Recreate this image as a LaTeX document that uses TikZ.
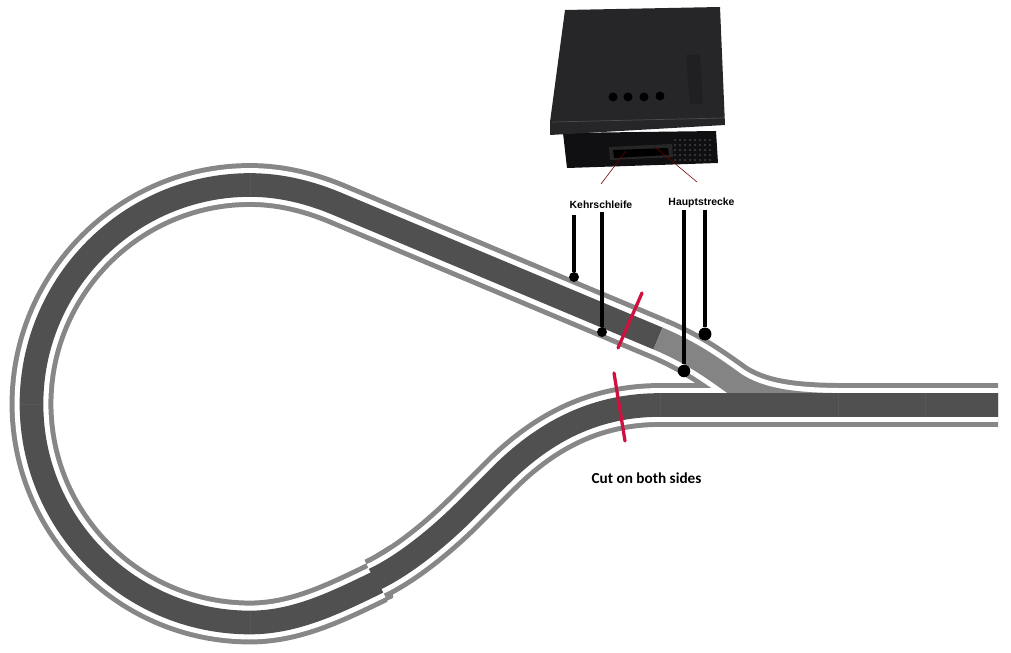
\documentclass[tikz,border=0pt]{standalone}
\usepackage{fontspec}
\setmainfont{Liberation Sans}
\newfontfamily\cutfont{Carlito}
\definecolor{railgray}{RGB}{135,135,135}
\definecolor{trackdark}{RGB}{80,80,80}
\definecolor{trackseam}{RGB}{88,88,88}
\definecolor{tracklight}{RGB}{132,132,132}
\definecolor{cutred}{RGB}{208,16,62}
\definecolor{boxblack}{RGB}{38,38,40}
\definecolor{boxbar}{RGB}{32,32,34}
\definecolor{boxside}{RGB}{16,16,18}
\tikzset{
  rail/.style={line width=37.4pt,color=railgray},
  gap/.style={line width=28.9pt,color=white},
  band/.style={line width=20.2pt,color=trackdark},
  wire/.style={line width=2.8pt,color=black},
  wiredot/.style={circle,fill=black,inner sep=0pt,minimum size=#1},
  cut/.style={line width=2.8pt,color=cutred,line cap=round},
  lead/.style={line width=0.5pt,color=red!45!black},
  tag/.style={inner sep=0pt,font=\bfseries\fontsize{8.9}{10}\selectfont,color=black}
}
\def\looppath{(658,338.5) -- (340,205) .. controls (312,193) and (282,185) .. (250,185) .. controls (129.6,185) and (31.5,283.6) .. (31.5,404) .. controls (31.5,524.4) and (129.6,622.5) .. (250,622.5) .. controls (295,622.5) and (335,603) .. (378,582)}
\def\mainpath{(374,579.5) .. controls (405,565) and (440,536) .. (466,510) -- (500,476) .. controls (540,436) and (590,405) .. (660,405) -- (998,405)}
\def\branchpath{(658,338.5) .. controls (690,352) and (710,366) .. (735,384) .. controls (763,402) and (800,405) .. (850,405)}
\begin{document}
\begin{tikzpicture}[x=0.03cm,y=-0.03cm]
  \useasboundingbox (0,0) rectangle (1011,653);
  % track, layer by layer
  \draw [rail] \looppath;
  \draw [rail] \mainpath;
  \draw [rail] \branchpath;
  \fill [railgray] (366,560)-- (390,545)-- (393,551)-- (368,566)-- cycle;
  \fill [railgray] (380,597)-- (393,590)-- (393,598)-- (382,603)-- cycle;
  \draw [gap] \looppath;
  \draw [gap] \mainpath;
  \draw [gap] \branchpath;
  \draw [band] \looppath;
  \draw [band,color=tracklight] \branchpath;
  \draw [band] \mainpath;
  % seams between the track pieces
  \foreach \a/\b/\c/\d in {250/174/250/196,250/612/250/633,20/404/43/404,838/393/838/417,925/393/925/417,660/393/660/417}
    \draw [line width=0.4pt,color=trackseam] (\a,\b)-- (\c,\d);
  % box
  \fill [boxside] (563,133)-- (716,131)-- (718,163)-- (567,168)-- cycle;
  \fill [black!85] (609,147)-- (672,144)-- (673,157)-- (610,160)-- cycle;
  \fill [black] (613,150)-- (668,148)-- (669,155)-- (614,158)-- cycle;
  \foreach \x in {675,680,...,712}
    \foreach \y in {140,145,...,160}
      \fill [black!65] (\x,\y) circle (0.8);
  \fill [boxblack] (565,10)-- (720,7)-- (725,125)-- (550,135)-- (550,122)-- cycle;
  \fill [boxbar] (686,55)-- (700,55)-- (703,104)-- (690,104)-- cycle;
  \draw [line width=0.6pt,color=black!70] (552,122)-- (724,118);
  \foreach \x/\y in {613/97,628/97,644/97,660/96}
    \fill [black] (\x,\y) circle (4.5);
  \draw [lead] (626,151)-- (601,184);
  \draw [lead] (655,147)-- (697,182);
  % labels
  \node [tag] (kehr) at (601,205) {Kehrschleife};
  \node [tag] (haupt) at (701.5,203) {Hauptstrecke};
  \node [inner sep=0pt,font=\cutfont\bfseries\fontsize{13}{15}\selectfont,color=black] (cuttext) at (646.5,478) {Cut on both sides};
  % wires
  \node [wiredot=8.5pt] (dota) at (574,277) {};
  \node [wiredot=8.5pt] (dotb) at (602,332) {};
  \node [wiredot=10.7pt] (dotc) at (684,371) {};
  \node [wiredot=11pt] (dotd) at (705,334) {};
  \coordinate (topa) at (574,215);
  \coordinate (topb) at (602,212);
  \coordinate (topc) at (684,210);
  \coordinate (topd) at (705,210);
  \draw [wire] (topa)-- (dota);
  \draw [wire] (topb)-- (dotb);
  \draw [wire] (topc)-- (dotc);
  \draw [wire] (topd)-- (dotd);
  % cuts
  \coordinate (cuta) at (642,293);
  \coordinate (cutb) at (618,348);
  \coordinate (cutc) at (614,373);
  \coordinate (cutd) at (625,441);
  \draw [cut] (cuta)-- (cutb);
  \draw [cut] (cutc)-- (cutd);
\end{tikzpicture}
\end{document}
